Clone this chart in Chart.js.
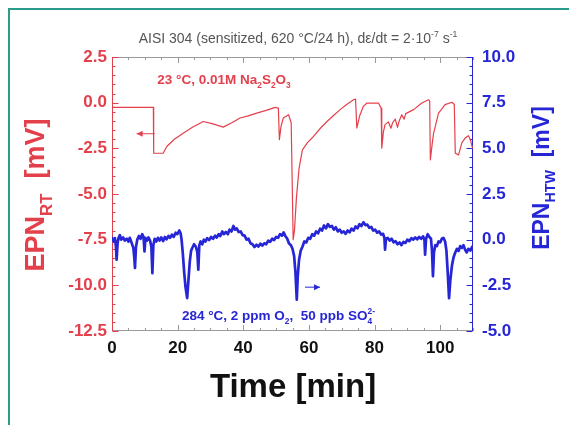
<!DOCTYPE html>
<html>
<head>
<meta charset="utf-8">
<script src="https://cdn.jsdelivr.net/npm/chart.js@4.4.0/dist/chart.umd.min.js"></script>
<style>
  html, body { margin: 0; padding: 0; background: #fff; }
  #wrap { position: relative; width: 569px; height: 425px; overflow: hidden; }
  #frame { position: absolute; left: 8px; top: 8px; right: -4px; bottom: -4px;
           border-left: 2px solid #2b9b8b; border-top: 2px solid #2b9b8b; pointer-events: none; }
  canvas { position: absolute; left: 0; top: 0; }
</style>
</head>
<body>
<div id="wrap">
  <canvas id="chart" width="569" height="425"></canvas>
  <div id="frame"></div>
</div>
<script>
// EPN at room temperature (left axis, mV)
const rtTime = [0, 12.6, 12.7, 15.6, 16.7, 19, 21.7, 24.5, 27.8, 30.5, 33.9, 36.5, 39, 41.5, 44.1, 47, 49.7, 50.7,
  51.0, 51.5, 52.2, 53.8, 54.6, 55.2, 55.6, 56.2, 57.0, 58.0, 59.5, 61.4, 63.5, 65.5, 67.5, 69.5, 71.5, 73.6, 74.2,
  74.6, 75.5, 76.6, 77.7, 81.2, 82.0, 82.2, 82.7, 83.2, 84.2, 85.0, 85.5, 86.3, 87.0, 87.5, 88.3, 89.0, 89.5, 91.9,
  94.4, 96.4, 96.8, 97.0, 97.6, 98.0, 99.5, 101.5, 103.6, 104.3, 104.6, 105.6, 106.6, 107.6, 108.6, 109.2, 109.7, 110];
const rtValue = [-0.26, -0.26, -2.77, -2.77, -2.4, -2.0, -1.67, -1.35, -1.03, -1.15, -1.34, -1.1, -0.84, -0.72, -0.57, -0.42, -0.26, -0.3,
  -2.03, -1.3, -0.84, -0.66, -1.1, -7.5, -7.0, -5.2, -3.6, -2.6, -2.2, -1.85, -1.4, -1.03, -0.7, -0.38, -0.1, 0.16, 0.2,
  -1.39, -0.7, -0.2, -0.02, -0.02, -0.3, -2.49, -1.6, -1.2, -1.05, -1.4, -1.1, -0.9, -1.35, -1.0, -0.66, -0.9, -0.6, -0.38,
  -0.02, 0.16, 0.1, -3.13, -2.2, -1.67, -0.57, -0.11, 0.02, -0.1, -2.77, -2.86, -2.2, -1.94, -1.81, -2.0, -2.4, -2.5];

// EPN in high temperature water (right axis, mV)
const htwTime = [0, 0.5, 0.9, 1.2, 1.4, 1.7, 2.0, 2.4, 2.8, 3.4, 3.9, 4.5, 5.0, 5.4, 6.0, 6.5, 6.8, 7.0, 7.3, 7.7,
  8.2, 8.7, 9.2, 9.6, 9.9, 10.2, 10.7, 11.1, 11.6, 12.0, 12.3, 12.6, 13.0, 13.5, 14.0, 14.5, 15.0, 15.6, 16.1, 16.6,
  17.2, 17.7, 18.3, 18.8, 19.4, 19.9, 20.5, 20.9, 21.2, 21.6, 22.0, 22.4, 22.9, 23.3, 23.7, 24.1, 24.6, 25.0, 25.6,
  26.0, 26.3, 26.6, 27.0, 27.5, 28.0, 28.5, 29.0, 29.6, 30.2, 30.8, 31.4, 31.9, 32.5, 33.0, 33.6, 34.1, 34.7, 35.3,
  35.8, 36.4, 37.0, 37.5, 38.0, 38.6, 39.2, 39.8, 40.4, 41.0, 41.6, 42.2, 42.8, 43.4, 44.0, 44.6, 45.2, 45.8, 46.4,
  47.0, 47.6, 48.2, 48.8, 49.4, 50.0, 50.6, 51.2, 51.8, 52.3, 52.8, 53.4, 53.9, 54.5, 55.0, 55.5, 55.9, 56.3, 56.6,
  57.0, 57.5, 58.0, 58.6, 59.2, 59.8, 60.4, 61.0, 61.6, 62.2, 62.8, 63.4, 64.0, 64.6, 65.2, 65.8, 66.4, 67.0, 67.6,
  68.2, 68.8, 69.4, 70.0, 70.6, 71.2, 71.8, 72.4, 73.0, 73.6, 74.2, 74.8, 75.4, 76.0, 76.6, 77.2, 77.8, 78.4, 79.0,
  79.6, 80.2, 80.8, 81.4, 82.0, 82.6, 83.0, 83.2, 83.5, 84.0, 84.6, 85.2, 85.8, 86.4, 87.0, 87.6, 88.2, 88.8, 89.4,
  90.0, 90.6, 91.2, 91.8, 92.4, 93.0, 93.6, 94.2, 94.8, 95.2, 95.4, 95.7, 96.2, 96.7, 97.2, 97.5, 97.8, 98.1, 98.5,
  99.0, 99.5, 100.0, 100.5, 101.0, 101.5, 101.9, 102.3, 102.7, 103.1, 103.6, 104.1, 104.6, 105.1, 105.6, 106.1,
  106.6, 107.1, 107.6, 108.1, 108.6, 109.2, 109.7, 110];
const htwValue = [0.1, -0.1, 0.09, -0.4, -1.1, -0.2, 0.1, 0.25, 0.0, 0.12, -0.05, 0.05, -0.1, 0.1, -0.18, -0.45, -1.0, -1.55, -0.4, 0.0,
  0.2, 0.05, 0.3, 0.15, -0.64, 0.1, -0.05, 0.12, -0.05, -0.4, -1.83, -0.3, 0.05, -0.1, 0.1, -0.05, 0.12, -0.08, 0.15, 0.02,
  0.2, 0.1, 0.28, 0.15, 0.38, 0.3, 0.5, 0.35, 0.0, -0.8, -1.8, -2.6, -3.2, -2.2, -1.2, -0.6, -0.4, -0.25, -0.4,
  -0.7, -1.64, -0.3, -0.1, -0.25, 0.0, -0.1, 0.08, -0.02, 0.15, 0.05, 0.22, 0.12, 0.3, 0.2, 0.45, 0.3, 0.42, 0.3,
  0.55, 0.45, 0.75, 0.55, 0.62, 0.42, 0.45, 0.25, 0.22, 0.0, 0.05, -0.2, -0.25, -0.4, -0.28, -0.38, -0.22, -0.32, -0.2,
  -0.25, -0.05, -0.12, 0.05, -0.02, 0.15, 0.1, 0.3, 0.22, 0.4, 0.2, 0.05, -0.2, -0.3, -0.5, -0.9, -1.8, -3.29, -2.0,
  -1.1, -0.6, -0.4, -0.1, -0.15, 0.1, 0.05, 0.3, 0.22, 0.45, 0.35, 0.6, 0.5, 0.78, 0.62, 0.85, 0.7, 0.75, 0.55,
  0.68, 0.45, 0.55, 0.38, 0.45, 0.32, 0.5, 0.4, 0.6, 0.5, 0.72, 0.62, 0.85, 0.75, 0.95, 0.8, 0.82, 0.65, 0.7,
  0.5, 0.55, 0.38, 0.45, 0.28, 0.32, 0.1, -0.55, 0.05, 0.1, -0.05, 0.05, -0.15, -0.08, -0.25, -0.15, -0.3, -0.12, -0.18,
  0.0, -0.08, 0.08, 0.0, 0.12, 0.02, 0.15, 0.05, 0.18, 0.0, -0.82, 0.05, 0.3, 0.15, 0.05, -0.6, -2.0, -0.7, -0.3,
  -0.35, -0.1, -0.15, 0.05, 0.1, -0.1, -0.6, -1.8, -3.2, -2.2, -1.4, -0.95, -0.7, -0.5, -0.62, -0.35,
  -0.45, -0.3, -0.55, -0.7, -0.5, -0.6, -0.4, -0.5];

const timeTicks = [0, 20, 40, 60, 80, 100];
const rtTicks = [2.5, 0, -2.5, -5, -7.5, -10, -12.5];
const htwTicks = [10, 7.5, 5, 2.5, 0, -2.5, -5];

const RED = '#e4404c';
const BLUE = '#2626d6';
const FONT = '"Liberation Sans", Arial, sans-serif';

function toPoints(xs, ys) {
  return xs.map((x, i) => ({ x: x, y: ys[i] }));
}

// draw text made of normal / sub / sup parts
function drawRich(ctx, parts, x, y, size, weight, color, align) {
  const small = size * 0.62;
  let total = 0;
  let prevW = 0;
  parts.forEach(p => {
    ctx.font = weight + ' ' + (p.m ? small : size) + 'px ' + FONT;
    const w = ctx.measureText(p.t).width;
    total += p.stack ? Math.max(0, w - prevW) : w;
    prevW = w;
  });
  let cx = align === 'center' ? x - total / 2 : x;
  let lastStart = cx;
  ctx.fillStyle = color;
  ctx.textAlign = 'left';
  ctx.textBaseline = 'alphabetic';
  parts.forEach(p => {
    ctx.font = weight + ' ' + (p.m ? small : size) + 'px ' + FONT;
    const w = ctx.measureText(p.t).width;
    let dy = 0;
    if (p.m === 'sub') dy = size * 0.28;
    if (p.m === 'sup') dy = -size * 0.42;
    const start = p.stack ? lastStart : cx;
    ctx.fillText(p.t, start, y + dy);
    if (p.stack) {
      cx = Math.max(cx, start + w);
    } else {
      lastStart = cx;
      cx += w;
    }
  });
}

function arrow(ctx, x1, y1, x2, y2, color) {
  ctx.strokeStyle = color;
  ctx.fillStyle = color;
  ctx.lineWidth = 1;
  ctx.beginPath();
  ctx.moveTo(x1, y1);
  ctx.lineTo(x2, y2);
  ctx.stroke();
  const dir = Math.sign(x2 - x1);
  ctx.beginPath();
  ctx.moveTo(x2, y2);
  ctx.lineTo(x2 - dir * 6, y2 - 3);
  ctx.lineTo(x2 - dir * 6, y2 + 3);
  ctx.closePath();
  ctx.fill();
}

const decorPlugin = {
  id: 'decor',
  beforeDatasetsDraw(chart) {
    const { ctx, chartArea: a, scales } = chart;
    ctx.save();
    ctx.lineWidth = 1;
    const seg = (x1, y1, x2, y2) => { ctx.beginPath(); ctx.moveTo(x1, y1); ctx.lineTo(x2, y2); ctx.stroke(); };

    // top & bottom axes with inward ticks
    ctx.strokeStyle = '#9a9a9a';
    seg(a.left, a.top + 0.5, a.right, a.top + 0.5);
    seg(a.left, a.bottom - 0.5, a.right, a.bottom - 0.5);
    for (let v = 0; v <= 110; v += 5) {
      const px = Math.round(scales.x.getPixelForValue(v)) + 0.5;
      const len = v % 20 === 0 ? 6 : 3;
      seg(px, a.bottom, px, a.bottom - len);
      seg(px, a.top, px, a.top + len);
    }

    // left axis
    ctx.strokeStyle = RED;
    const lx = Math.round(a.left) + 0.5;
    seg(lx, a.top, lx, a.bottom);
    for (let v = -12.5; v <= 2.5001; v += 0.5) {
      const py = Math.round(scales.y.getPixelForValue(v)) + 0.5;
      const major = Math.abs(v / 2.5 - Math.round(v / 2.5)) < 1e-6;
      seg(lx, py, lx + (major ? 6 : 3), py);
    }

    // right axis
    ctx.strokeStyle = BLUE;
    const rx = Math.round(a.right) - 0.5;
    seg(rx, a.top, rx, a.bottom);
    for (let v = -5; v <= 10.0001; v += 0.5) {
      const py = Math.round(scales.y2.getPixelForValue(v)) + 0.5;
      const major = Math.abs(v / 2.5 - Math.round(v / 2.5)) < 1e-6;
      seg(rx, py, rx - (major ? 6 : 3), py);
    }
    ctx.restore();
  },
  afterDraw(chart) {
    const { ctx, scales } = chart;
    ctx.save();

    // title
    drawRich(ctx, [
      { t: 'AISI 304 (sensitized, 620 °C/24 h), dε/dt = 2·10' },
      { t: '-7', m: 'sup' },
      { t: ' s' },
      { t: '-1', m: 'sup' }
    ], 298, 43, 14, 'normal', '#555', 'center');

    // x title
    drawRich(ctx, [{ t: 'Time [min]' }], 293, 397, 33, 'bold', '#111', 'center');

    // left title (rotated)
    ctx.save();
    ctx.translate(44, 195);
    ctx.rotate(-Math.PI / 2);
    drawRich(ctx, [{ t: 'EPN' }, { t: 'RT', m: 'sub' }, { t: '  [mV]' }], 0, 0, 27, 'bold', RED, 'center');
    ctx.restore();

    // right title (rotated)
    ctx.save();
    ctx.translate(549, 178);
    ctx.rotate(-Math.PI / 2);
    drawRich(ctx, [{ t: 'EPN' }, { t: 'HTW', m: 'sub' }, { t: '  [mV]' }], 0, 0, 23, 'bold', BLUE, 'center');
    ctx.restore();

    // annotations
    const x = scales.x, y = scales.y, y2 = scales.y2;
    drawRich(ctx, [
      { t: '23 °C, 0.01M Na' }, { t: '2', m: 'sub' }, { t: 'S' }, { t: '2', m: 'sub' }, { t: 'O' }, { t: '3', m: 'sub' }
    ], x.getPixelForValue(13.8), y.getPixelForValue(1.0), 13.5, 'bold', RED, 'left');

    drawRich(ctx, [
      { t: '284 °C, 2 ppm O' }, { t: '2', m: 'sub' }, { t: ',  50 ppb SO' }, { t: '4', m: 'sub' }, { t: '2-', m: 'sup', stack: true }
    ], x.getPixelForValue(21.3), y2.getPixelForValue(-4.4), 13.5, 'bold', BLUE, 'left');

    arrow(ctx, x.getPixelForValue(13), y.getPixelForValue(-1.7), x.getPixelForValue(7.5), y.getPixelForValue(-1.7), RED);
    arrow(ctx, x.getPixelForValue(58.8), y2.getPixelForValue(-2.6), x.getPixelForValue(63.4), y2.getPixelForValue(-2.6), BLUE);

    ctx.restore();
  }
};

const tickFont = { family: FONT, size: 17, weight: 'bold' };

new Chart(document.getElementById('chart').getContext('2d'), {
  type: 'line',
  data: {
    datasets: [
      {
        label: 'EPN HTW',
        data: toPoints(htwTime, htwValue),
        yAxisID: 'y2',
        borderColor: BLUE,
        borderWidth: 2.7,
        borderJoinStyle: 'round',
        borderCapStyle: 'round',
        pointRadius: 0,
        tension: 0
      },
      {
        label: 'EPN RT',
        data: toPoints(rtTime, rtValue),
        yAxisID: 'y',
        borderColor: RED,
        borderWidth: 1.2,
        borderJoinStyle: 'round',
        pointRadius: 0,
        tension: 0
      }
    ]
  },
  options: {
    responsive: false,
    animation: false,
    layout: { padding: { top: 57, left: 0, right: 0, bottom: 0 } },
    plugins: {
      legend: { display: false },
      tooltip: { enabled: false },
      title: { display: false }
    },
    scales: {
      x: {
        type: 'linear',
        position: 'bottom',
        min: 0,
        max: 110,
        grid: { display: false, drawTicks: false },
        border: { display: false },
        ticks: { font: tickFont, color: '#111', padding: 7, maxRotation: 0 },
        afterBuildTicks: s => { s.ticks = timeTicks.map(v => ({ value: v })); },
        afterFit: s => { s.height = 94; }
      },
      y: {
        type: 'linear',
        position: 'left',
        min: -12.5,
        max: 2.5,
        grid: { display: false, drawTicks: false },
        border: { display: false },
        ticks: { font: tickFont, color: RED, padding: 5, callback: v => Number(v).toFixed(1) },
        afterBuildTicks: s => { s.ticks = rtTicks.map(v => ({ value: v })); },
        afterFit: s => { s.width = 112; }
      },
      y2: {
        type: 'linear',
        position: 'right',
        min: -5,
        max: 10,
        grid: { display: false, drawTicks: false },
        border: { display: false },
        ticks: { font: tickFont, color: BLUE, padding: 9, callback: v => Number(v).toFixed(1) },
        afterBuildTicks: s => { s.ticks = htwTicks.map(v => ({ value: v })); },
        afterFit: s => { s.width = 96; }
      }
    }
  },
  plugins: [decorPlugin]
});
</script>
</body>
</html>
